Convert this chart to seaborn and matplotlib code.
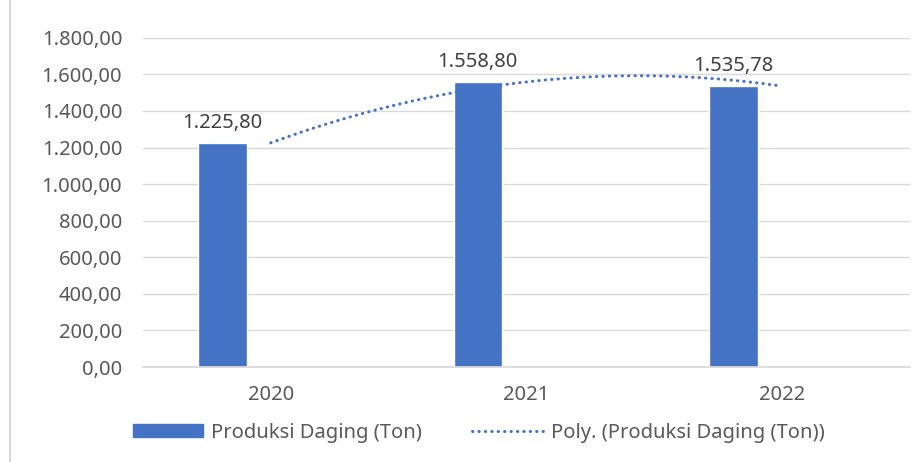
import matplotlib
matplotlib.use("Agg")
import matplotlib.pyplot as plt
from matplotlib.lines import Line2D
from matplotlib.patches import Patch
import numpy as np
import pandas as pd
import seaborn as sns

# data
years = ["2020", "2021", "2022"]
produksi = [1225.80, 1558.80, 1535.78]
y_ticks = [0, 200, 400, 600, 800, 1000, 1200, 1400, 1600, 1800]

bar_color = "#4472C4"
text_color = "#595959"
fs = 14.5


def fmt_id(v):
    # Indonesian number format: 1.225,80
    s = f"{v:,.2f}"
    return s.replace(",", "X").replace(".", ",").replace("X", ".")


df = pd.DataFrame({"tahun": years, "produksi": produksi})

sns.set_theme(style="white")
plt.rcParams["font.family"] = ["Noto Sans", "DejaVu Sans"]

fig = plt.figure(figsize=(9.24, 4.62), dpi=100)
ax = fig.add_axes([0.1548, 0.2056, 0.8297, 0.7126])

bar_w = 0.19
sns.barplot(data=df, x="tahun", y="produksi", color=bar_color, width=bar_w,
            saturation=1, ax=ax, zorder=3)

# category centers sit one bar width right of the bars (Excel cluster offset)
offset = bar_w
xpos = np.arange(len(years)) + offset

# polynomial (order 2) trendline on the category centers
coef = np.polyfit(np.arange(1, len(years) + 1), produksi, 2)
xs = np.linspace(1, len(years), 200)
ax.plot(xs - 1 + offset, np.polyval(coef, xs), color=bar_color, lw=2.2,
        linestyle=(0, (0.1, 2.0)), dash_capstyle="round", zorder=4)

for i, v in enumerate(produksi):
    ax.text(i, v + 55, fmt_id(v), ha="center", va="bottom",
            fontsize=fs, color="#404040", zorder=5)

ax.set_xticks(xpos)
ax.set_xticklabels(years)
ax.set_xlim(offset - 0.5, len(years) - 0.5 + offset)
ax.set_ylim(0, 1800)
ax.set_yticks(y_ticks)
ax.set_yticklabels([fmt_id(t) for t in y_ticks])
ax.tick_params(axis="x", length=0, pad=13, labelsize=fs, labelcolor=text_color)
ax.tick_params(axis="y", length=0, pad=15, labelsize=fs, labelcolor=text_color)
ax.set_xlabel("")
ax.set_ylabel("")
ax.yaxis.grid(True, color="#D9D9D9", lw=1, zorder=0)
for s in ["top", "right", "left"]:
    ax.spines[s].set_visible(False)
ax.spines["bottom"].set_color("#D9D9D9")
ax.spines["bottom"].set_zorder(3)

handles = [Patch(facecolor=bar_color, edgecolor=bar_color),
           Line2D([0], [0], color=bar_color, lw=2.2, linestyle=(0, (0.1, 2.0)),
                  dash_capstyle="round")]
labels = ["Produksi Daging (Ton)", "Poly. (Produksi Daging (Ton))"]
fig.legend(handles, labels, loc="center", bbox_to_anchor=(0.518, 0.063), ncol=2,
           frameon=False, fontsize=fs, labelcolor=text_color,
           handlelength=3.5, handleheight=0.6, columnspacing=2.5, handletextpad=0.4)

# faint border at the left edge of the chart area
fig.add_artist(Line2D([0.011, 0.011], [0, 1], transform=fig.transFigure,
                      color="#D9D9D9", lw=1.5))

fig.savefig("out.png", dpi=100)
